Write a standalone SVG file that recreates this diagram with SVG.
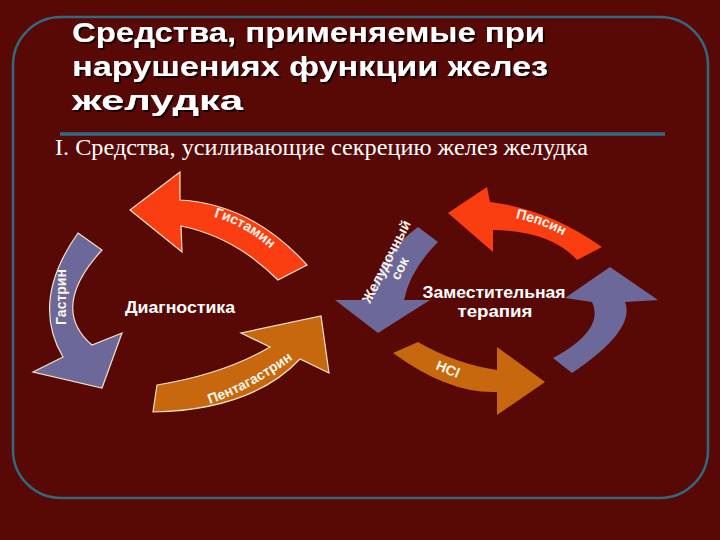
<svg xmlns="http://www.w3.org/2000/svg" width="720" height="540" viewBox="0 0 720 540">
<defs>
<filter id="sh" x="-5%" y="-20%" width="110%" height="150%">
<feOffset in="SourceAlpha" dx="2" dy="1.5" result="o"/>
<feFlood flood-color="#1a0000"/>
<feComposite in2="o" operator="in" result="s"/>
<feMerge><feMergeNode in="s"/><feMergeNode in="SourceGraphic"/></feMerge>
</filter>
<style>
.bg{fill:#590905}
.frame{fill:none;stroke:#2f6a80;stroke-width:2.5}
.rule{stroke:#2f6c86;stroke-width:3.5}
.title{font-family:"Liberation Sans",Arial,sans-serif;font-weight:bold;font-size:28px;fill:#ffffff}
.sub{font-family:"Liberation Serif","Times New Roman",serif;font-size:23px;fill:#ffffff}
.red{fill:#fb3d12}
.purple{fill:#6c689a}
.orange{fill:#c8680e}
.edge{stroke:#f3e3c8;stroke-width:1.2;stroke-linejoin:miter}
.lbl{font-family:"Liberation Sans",Arial,sans-serif;font-weight:bold;font-size:14px;fill:#fff6ea}
.center{font-family:"Liberation Sans",Arial,sans-serif;font-weight:bold;font-size:16px;fill:#ffffff}
</style>
<path id="pGist" d="M182,212 Q245,214 293,272"/>
<path id="pPenta" d="M165,415 Q235,405 305,350"/>
<path id="pPeps" d="M490,214 Q550,220 592,255"/>
</defs>
<rect class="bg" x="0" y="0" width="720" height="540"/>
<rect class="frame" x="13" y="17" width="695" height="481" rx="48" ry="48"/>
<line class="rule" x1="60" y1="134" x2="665" y2="134"/>

<g id="title" filter="url(#sh)">
<text class="title" x="72" y="42" textLength="473" lengthAdjust="spacingAndGlyphs">Средства, применяемые при</text>
<text class="title" x="72" y="76" textLength="476" lengthAdjust="spacingAndGlyphs">нарушениях функции желез</text>
<text class="title" x="72" y="110" textLength="171" lengthAdjust="spacingAndGlyphs">желудка</text>
</g>
<g id="subtitle">
<text class="sub" x="55" y="155" textLength="533" lengthAdjust="spacingAndGlyphs">I. Средства, усиливающие секрецию желез желудка</text>
</g>

<g id="connectors">
<!-- Гистамин (red, left cycle) -->
<path class="red edge" d="M307,265 L278,280 Q235,237 181,226 L182,252 L130,210 L180,172 L180,200 Q252,204 307,265 Z"/>
<!-- Гастрин (purple, left cycle) -->
<path class="purple edge" d="M78,233 L102,250 Q49,308 92,345 L122,333 L102,388 L33,372 L63,357 Q30,301 78,233 Z"/>
<!-- Пентагастрин (orange, left cycle) -->
<path class="orange edge" d="M157,385 Q224,374 270,347 L241,333 L321,316 L329,373 L300,359 Q252,410 153,412 Z"/>
<!-- Желудочный сок (purple, right cycle) -->
<path class="purple" d="M418,227 L438,242 Q410,270 404,300 L430,300 L378,333 L335,300 L370,300 Q380,255 418,227 Z"/>
<!-- Пепсин (red, right cycle) -->
<path class="red" d="M602,247 L577,260 Q551,231 493,230 L493,252 L448,213 L487,187 L490,202 Q548,209 602,247 Z"/>
<!-- right purple arrow -->
<path class="purple" d="M553,358 Q605,330 592,302 L565,298 L610,267 L658,300 L625,302 Q636,330 572,373 Z"/>
<!-- HCl (orange, right cycle) -->
<path class="orange" d="M418,342 Q456,364 497,370 L497,347 L545,382 L497,415 L497,392 Q449,394 393,353 Z"/>
</g>

<g id="label-gistamin"><text class="lbl"><textPath href="#pGist" startOffset="50%" text-anchor="middle" dy="5">Гистамин</textPath></text></g>
<g id="label-gastrin"><text class="lbl" transform="translate(61,297) rotate(-90)" x="0" y="5" text-anchor="middle">Гастрин</text></g>
<g id="label-pentagastrin"><text class="lbl"><textPath href="#pPenta" startOffset="60%" text-anchor="middle">Пентагастрин</textPath></text></g>
<g id="label-sok" transform="translate(387,262) rotate(-63)">
<text class="lbl" x="0" y="4" text-anchor="middle">Желудочный</text>
<text class="lbl" x="0" y="19" text-anchor="middle">сок</text>
</g>
<g id="label-pepsin"><text class="lbl"><textPath href="#pPeps" startOffset="46%" text-anchor="middle" dy="1">Пепсин</textPath></text></g>
<g id="label-hcl"><text class="lbl" transform="translate(448,369) rotate(22)" x="0" y="5" text-anchor="middle">HCl</text></g>

<g id="diagnostika"><text class="center" x="180" y="313" text-anchor="middle" textLength="110" lengthAdjust="spacingAndGlyphs">Диагностика</text></g>
<g id="terapiya">
<text class="center" x="494" y="298" text-anchor="middle" textLength="143" lengthAdjust="spacingAndGlyphs">Заместительная</text>
<text class="center" x="495" y="317" text-anchor="middle" textLength="75" lengthAdjust="spacingAndGlyphs">терапия</text>
</g>
</svg>
